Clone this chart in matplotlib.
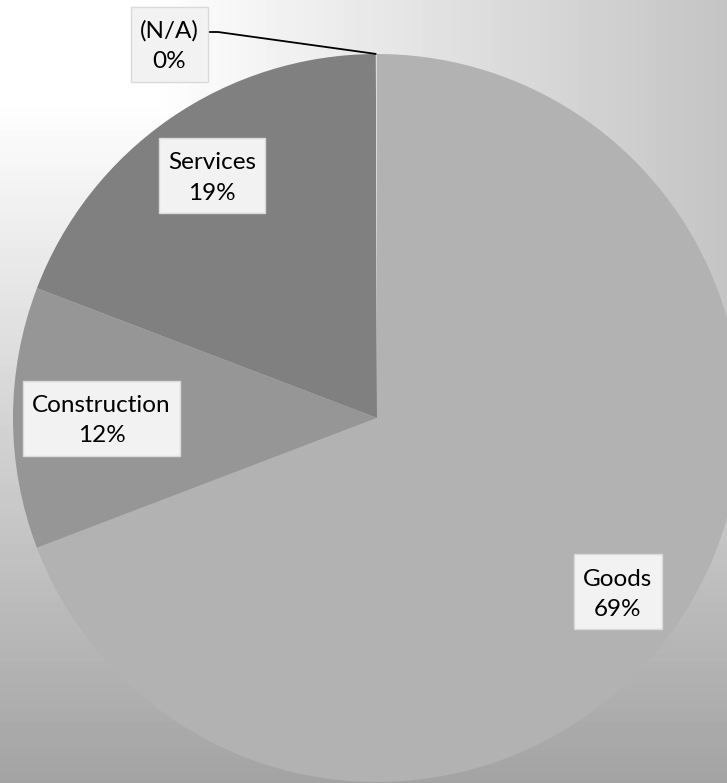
import numpy as np
import matplotlib
matplotlib.use('Agg')
import matplotlib.pyplot as plt
from matplotlib.patches import Rectangle

# datos del grafico
categorias = ['Goods', 'Construction', 'Services', '(N/A)']
valores = [69.2, 11.6, 19.15, 0.05]
colores = ['#b2b2b2', '#969696', '#808080', '#d9d9d9']

plt.rcParams['font.family'] = ['Lato', 'DejaVu Sans']

W, H = 727, 783
fig = plt.figure(figsize=(W / 100.0, H / 100.0), dpi=100)
ax = fig.add_axes([0, 0, 1, 1])

# centro y radio del pie en pixeles
cx, cy, R = 377.0, 418.0, 364.0
x0, x1 = -cx / R, (W - cx) / R
y0, y1 = -(H - cy) / R, cy / R

# fondo degradado desde la esquina superior izquierda
xx = np.arange(W)
yy = np.arange(H)
gh = np.clip(255 - (xx - 150) / (727.0 - 150) * 59, 196, 255)
gv = np.clip(255 - (yy - 100) / (783.0 - 100) * 92, 160, 255)
fondo = np.minimum(gh[None, :], gv[:, None])
ax.imshow(fondo, cmap='gray', vmin=0, vmax=255, extent=[x0, x1, y0, y1],
          aspect='auto', zorder=0, interpolation='bilinear')

wedges, _ = ax.pie(valores, colors=colores, startangle=90, counterclock=False,
                   radius=1.0, wedgeprops=dict(linewidth=0))
for w in wedges:
    w.set_zorder(1)

ax.set_xlim(x0, x1)
ax.set_ylim(y0, y1)
ax.set_aspect('auto')
ax.axis('off')

# posiciones de las etiquetas (unidades del pie)
pos_etiquetas = [(0.662, -0.478), (-0.757, 0.0), (-0.453, 0.665), (-0.571, 1.027)]
total = sum(valores)
textos = []
for i in range(len(categorias)):
    txt = categorias[i] + '\n' + str(int(round(valores[i] * 100.0 / total))) + '%'
    t = ax.text(pos_etiquetas[i][0], pos_etiquetas[i][1] - 0.006, txt, ha='center', va='center',
                fontsize=17.5, linespacing=1.55, color='#000000', zorder=4)
    textos.append(t)

# cajas de las etiquetas (ancho segun el texto, alto fijo)
fig.canvas.draw()
ren = fig.canvas.get_renderer()
for i in range(len(textos)):
    ext = textos[i].get_window_extent(renderer=ren)
    bw = (ext.width + 18) / R
    bh = 75.0 / R
    ax.add_patch(Rectangle((pos_etiquetas[i][0] - bw / 2, pos_etiquetas[i][1] - bh / 2), bw, bh,
                           fc='#f2f2f2', ec='#d9d9d9', lw=1.0, zorder=3))

# linea guia para (N/A)
w = wedges[3]
ang = np.deg2rad((w.theta1 + w.theta2) / 2.0)
px, py = (207 - cx) / R, (cy - 32) / R
ax.plot([px, (218 - cx) / R, np.cos(ang)], [py, py, np.sin(ang)], color='black',
        lw=1.3, zorder=2, solid_capstyle='butt')

fig.savefig('out.png', dpi=100)
